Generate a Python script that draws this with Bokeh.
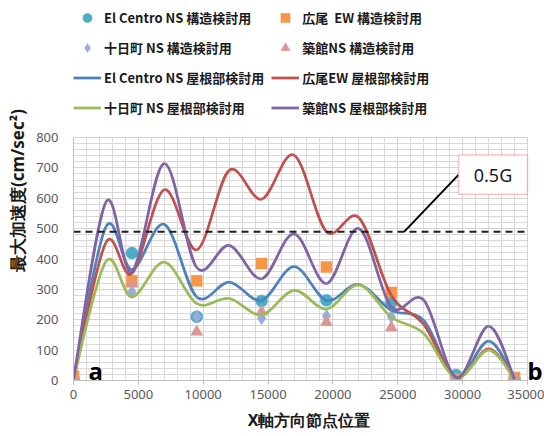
from bokeh.plotting import figure
from bokeh.models import (Legend, LegendItem, SingleIntervalTicker, Label,
                          BoxAnnotation, Range1d, ColumnDataSource)
from bokeh.embed import file_html
from bokeh.resources import INLINE

# ---------------- data ----------------
node_x = [0, 2500, 4500, 7000, 9500, 12000, 14500, 17000, 19500, 22000,
          24500, 27000, 29500, 32000, 34000]
roof_elcentro = [5, 506, 365, 514, 275, 324, 264, 375, 264, 316, 231, 198, 10, 130, 5]
roof_hiroo = [5, 454, 352, 628, 430, 692, 597, 742, 490, 536, 280, 185, 10, 104, 5]
roof_tokamachi = [5, 392, 275, 390, 253, 270, 216, 297, 235, 315, 209, 155, 10, 100, 5]
roof_tsukidate = [5, 587, 357, 714, 372, 445, 335, 483, 319, 500, 242, 265, 10, 179, 5]

marker_x = [0, 4500, 9500, 14500, 19500, 24500, 29500, 34000]
struct_elcentro = [5, 420, 210, 262, 264, 256, 18, 5]
struct_hiroo = [15, 328, 328, 385, 374, 290, 5, 10]
struct_tokamachi = [5, 292, 210, 205, 212, 210, 5, 5]
struct_tsukidate = [0, 318, 160, 226, 192, 174, 0, 0]

threshold_05g = 490
x_min, x_max = 0, 35000
y_min, y_max = 0, 800

labels_struct = ["El Centro NS 構造検討用", "広尾  EW 構造検討用",
                 "十日町 NS 構造検討用", "築館NS 構造検討用"]
labels_roof = ["El Centro NS 屋根部検討用", "広尾EW 屋根部検討用",
               "十日町 NS 屋根部検討用", "築館NS 屋根部検討用"]

x_axis_title = "X軸方向節点位置"
y_axis_title = "最大加速度(cm/sec²)"

# ---------------- styling ----------------
CJK = "Noto Sans CJK JP"
line_colors = ["#4F81BD", "#C0504D", "#9BBB59", "#8064A2"]
marker_colors = ["#4BACC6", "#F79646", "#9AAADC", "#DA9694"]

W, H = 544, 436
FL, FR, FT, FB = 73, 527, 137, 380          # data area in px
# the frame is larger than the data area so that legend / "b" are not clipped
x_end = x_max * (W - FL) / (FR - FL)
y_end = y_max * FB / (FB - FT)

p = figure(width=W, height=H, output_backend="svg", toolbar_location=None,
           x_range=Range1d(x_min, x_end), y_range=Range1d(y_min, y_end),
           min_border_left=FL, min_border_right=0, min_border_top=0,
           min_border_bottom=H - FB)
p.outline_line_color = None
p.background_fill_color = "white"
p.border_fill_color = "white"

p.xaxis.ticker = SingleIntervalTicker(interval=5000, num_minor_ticks=5)
p.yaxis.ticker = SingleIntervalTicker(interval=100, num_minor_ticks=5)
p.xaxis.bounds = (x_min, x_max)
p.yaxis.bounds = (y_min, y_max)

for g in (p.xgrid, p.ygrid):
    g.grid_line_color = "#d3d3d3"
    g.minor_grid_line_color = "#d9d9d9"
    g.grid_line_width = 1
    g.minor_grid_line_width = 1
p.xgrid.bounds = (x_min, x_max)
p.xgrid.cross_bounds = (y_min, y_max)
p.ygrid.bounds = (y_min, y_max)
p.ygrid.cross_bounds = (x_min, x_max)

for ax in (p.xaxis, p.yaxis):
    ax.axis_line_color = "#bfbfbf"
    ax.major_label_text_font = "Noto Sans"
    ax.major_label_text_font_size = "13px"
    ax.major_label_text_color = "#595959"
    ax.minor_tick_line_color = None
    ax.major_tick_in = 0

p.xaxis.major_tick_out = 4
p.xaxis.major_tick_line_color = "#bfbfbf"
p.xaxis.major_label_standoff = 5
p.yaxis.major_tick_out = 0
p.yaxis.major_tick_line_color = None
p.yaxis.major_label_standoff = 11

p.yaxis.axis_label = y_axis_title
p.yaxis.axis_label_text_font = "Noto Sans"
p.yaxis.axis_label_text_font_style = "bold"
p.yaxis.axis_label_text_font_size = "17px"
p.yaxis.axis_label_text_color = "#1a1a1a"
p.yaxis.axis_label_standoff = 4

p.xaxis.axis_label = x_axis_title
p.xaxis.axis_label_text_font = "Noto Sans"
p.xaxis.axis_label_text_font_style = "bold"
p.xaxis.axis_label_text_font_size = "16px"
p.xaxis.axis_label_text_color = "#1a1a1a"
p.xaxis.axis_label_standoff = 7


def smooth_segments(xs, ys):
    """Excel-like smoothed line: cubic Bezier segments through the nodes."""
    n = len(xs)
    d = dict(x0=[], y0=[], x1=[], y1=[], cx0=[], cy0=[], cx1=[], cy1=[])
    for i in range(n - 1):
        im, ip = max(i - 1, 0), min(i + 2, n - 1)
        d["x0"].append(xs[i]); d["y0"].append(ys[i])
        d["x1"].append(xs[i + 1]); d["y1"].append(ys[i + 1])
        d["cx0"].append(xs[i] + (xs[i + 1] - xs[im]) / 6)
        d["cy0"].append(ys[i] + (ys[i + 1] - ys[im]) / 6)
        d["cx1"].append(xs[i + 1] - (xs[ip] - xs[i]) / 6)
        d["cy1"].append(ys[i + 1] - (ys[ip] - ys[i]) / 6)
    return ColumnDataSource(d)


# markers (drawn beneath the lines)
struct_series = [struct_elcentro, struct_hiroo, struct_tokamachi, struct_tsukidate]
marker_types = ["circle", "square", "diamond", "triangle"]
marker_sizes = [12, 11, 13, 12]
struct_renderers = []
for ys, mk, col, sz in zip(struct_series, marker_types, marker_colors, marker_sizes):
    r = p.scatter(marker_x, ys, marker=mk, size=sz, fill_color=col,
                  line_color=col, line_width=0.5)
    struct_renderers.append(r)

# smoothed lines
roof_series = [roof_elcentro, roof_hiroo, roof_tokamachi, roof_tsukidate]
roof_renderers = []
for ys, col in zip(roof_series, line_colors):
    r = p.bezier(x0="x0", y0="y0", x1="x1", y1="y1", cx0="cx0", cy0="cy0",
                 cx1="cx1", cy1="cy1", source=smooth_segments(node_x, ys),
                 line_color=col, line_width=2.75)
    roof_renderers.append(r)

# 0.5G threshold
p.line([x_min, x_max], [threshold_05g, threshold_05g], line_color="#1f1f1f",
       line_width=2, line_dash="7 5")
# callout
p.line([25500, 29680], [threshold_05g, 677], line_color="black", line_width=2)
p.add_layout(BoxAnnotation(left=29680, right=35000, bottom=613, top=742,
                           fill_color="white", fill_alpha=1,
                           line_color="#EE3B3B", line_width=1.5))
p.add_layout(Label(x=32340, y=677, text="0.5G", text_align="center",
                   text_baseline="middle", text_font="Noto Sans",
                   text_font_size="18px", text_color="#1a1a1a"))

# end markers a / b
p.add_layout(Label(x=1150, y=-20, text="a", text_font="Noto Sans",
                   text_font_style="bold", text_font_size="24px",
                   text_color="black", text_baseline="bottom"))
p.add_layout(Label(x=35000, y=-20, text="b", text_font="Noto Sans",
                   text_font_style="bold", text_font_size="24px",
                   text_color="black", text_baseline="bottom"))

items = []
for lab, r in zip(labels_struct, struct_renderers):
    items.append(LegendItem(label=lab, renderers=[r]))
for lab, r in zip(labels_roof, roof_renderers):
    items.append(LegendItem(label=lab, renderers=[r]))

legend = Legend(items=items, location=(0, 261), ncols=2, orientation="horizontal",
                glyph_width=28, glyph_height=23, label_height=23,
                label_standoff=3, spacing=7, padding=0, margin=0,
                border_line_color=None, background_fill_alpha=0,
                label_text_font=CJK, label_text_font_style="bold",
                label_text_font_size="13px", label_text_color="#1a1a1a")
p.add_layout(legend)

open("out.html", "w").write(file_html(p, INLINE))
